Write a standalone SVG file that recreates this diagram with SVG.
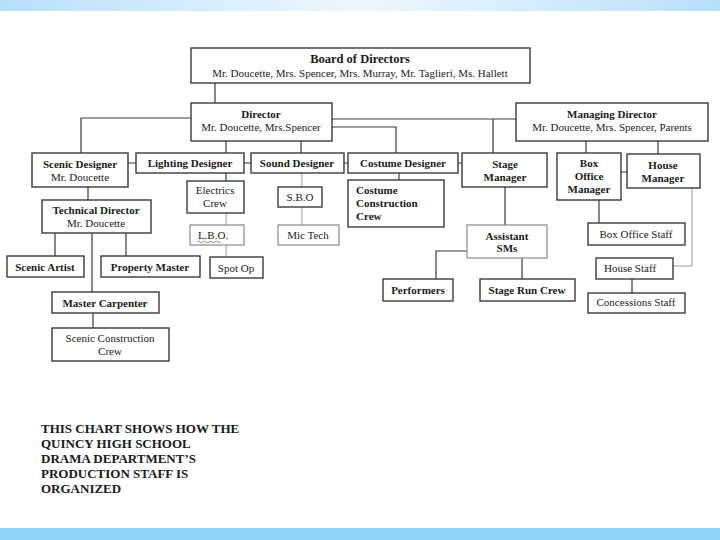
<svg xmlns="http://www.w3.org/2000/svg" width="720" height="540" viewBox="0 0 720 540">
<defs>
<linearGradient id="topg" x1="0" y1="0" x2="1" y2="0">
<stop offset="0" stop-color="#b8dffa"/>
<stop offset="0.5" stop-color="#eef7fd"/>
<stop offset="1" stop-color="#b8dffa"/>
</linearGradient>
<style>
.b{fill:#fff;stroke:#3a3a3a;stroke-width:1.4}
.g{fill:#fff;stroke:#8a8a8a;stroke-width:1.2}
.t{font-family:"Liberation Serif",serif;font-size:11px;fill:#222;text-anchor:middle}
.tb{font-family:"Liberation Serif",serif;font-size:11px;font-weight:bold;fill:#1a1a1a;text-anchor:middle}
.l{fill:none;stroke:#3a3a3a;stroke-width:1.2}
.lg{fill:none;stroke:#999;stroke-width:1}
.cap{font-family:"Liberation Serif",serif;font-size:13px;font-weight:bold;fill:#1a1a1a}
</style>
</defs>
<rect x="0" y="0" width="720" height="540" fill="#fff"/>
<rect x="0" y="0" width="720" height="11" fill="url(#topg)"/>
<rect x="0" y="528" width="720" height="12" fill="#8fd4f8"/>

<g id="connectors">
<path class="l" d="M215 83V103"/>
<path class="l" d="M191 118H81V153"/>
<path class="l" d="M226 141V153M301 141V153"/>
<path class="l" d="M332 119H516M493 119V153"/>
<path class="l" d="M332 127H396V153"/>
<path class="l" d="M128 163H136M244 163H251M344 163H348M458 163H462"/>
<path class="l" d="M586 141V153M658 141V154M621 172H627"/>
<path class="l" d="M505 187V225"/>
<path class="l" d="M467 251H436V279M522 258V279"/>
<path class="l" d="M599 200V223"/>
<path class="lg" d="M692 188V266H673"/>
<path class="l" d="M632 279V293"/>
<path class="l" d="M88 187V200"/>
<path class="l" d="M55 233V256M126 233V256M92 233V292M93 313V328"/>
<path class="l" d="M226 173V181"/>
<path class="lg" d="M226 213V225M226 245V257"/>
<path class="lg" d="M302 173V187M302 207V225"/>
<path class="l" d="M399 173V180"/>
</g>

<g id="board"><rect class="b" x="191" y="48" width="339" height="35"/>
<text class="tb" x="360" y="63" style="font-size:12.5px">Board of Directors</text>
<text class="t" x="360" y="77">Mr. Doucette, Mrs. Spencer, Mrs. Murray, Mr. Taglieri, Ms. Hallett</text></g>

<g id="director"><rect class="b" x="191" y="103" width="141" height="38"/>
<text class="tb" x="261" y="118">Director</text>
<text class="t" x="261" y="131">Mr. Doucette, Mrs.Spencer</text></g>

<g id="managing"><rect class="b" x="516" y="103" width="192" height="38"/>
<text class="tb" x="612" y="118">Managing Director</text>
<text class="t" x="612" y="131">Mr. Doucette, Mrs. Spencer, Parents</text></g>

<g id="scenic-designer"><rect class="b" x="32" y="153" width="96" height="34"/>
<text class="tb" x="80" y="168">Scenic Designer</text>
<text class="t" x="80" y="181">Mr. Doucette</text></g>

<g id="lighting"><rect class="b" x="136" y="153" width="108" height="20"/>
<text class="tb" x="190" y="167">Lighting Designer</text></g>

<g id="sound"><rect class="b" x="251" y="153" width="93" height="20"/>
<text class="tb" x="297" y="167">Sound Designer</text></g>

<g id="costume"><rect class="b" x="348" y="153" width="110" height="20"/>
<text class="tb" x="403" y="167">Costume Designer</text></g>

<g id="stage-manager"><rect class="b" x="462" y="153" width="85" height="34"/>
<text class="tb" x="505" y="168">Stage</text>
<text class="tb" x="505" y="181">Manager</text></g>

<g id="box-office-manager"><rect class="b" x="557" y="153" width="64" height="47"/>
<text class="tb" x="589" y="167">Box</text>
<text class="tb" x="589" y="180">Office</text>
<text class="tb" x="589" y="193">Manager</text></g>

<g id="house-manager"><rect class="b" x="627" y="154" width="73" height="34"/>
<text class="tb" x="663" y="169">House</text>
<text class="tb" x="663" y="182">Manager</text></g>

<g id="technical-director"><rect class="b" x="42" y="200" width="109" height="33"/>
<text class="tb" x="96" y="214">Technical Director</text>
<text class="t" x="96" y="227">Mr. Doucette</text></g>

<g id="scenic-artist"><rect class="b" x="7" y="256" width="77" height="21"/>
<text class="tb" x="45" y="271">Scenic Artist</text></g>

<g id="property-master"><rect class="b" x="101" y="256" width="99" height="21"/>
<text class="tb" x="150" y="271">Property Master</text></g>

<g id="master-carpenter"><rect class="b" x="52" y="292" width="107" height="21"/>
<text class="tb" x="105" y="307">Master Carpenter</text></g>

<g id="scenic-construction"><rect class="b" x="52" y="328" width="117" height="33"/>
<text class="t" x="110" y="342">Scenic Construction</text>
<text class="t" x="110" y="355">Crew</text></g>

<g id="electrics"><rect class="b" x="187" y="181" width="57" height="32"/>
<text class="t" x="215" y="194">Electrics</text>
<text class="t" x="215" y="207">Crew</text></g>

<g id="lbo"><rect class="g" x="190" y="225" width="54" height="20"/>
<text class="t" x="213" y="239">L.B.O.</text>
<path d="M197 242q1.5 -1.5 3 0t3 0t3 0t3 0t3 0t3 0t3 0t3 0" fill="none" stroke="#5a8a3a" stroke-width="0.8"/></g>

<g id="spot-op"><rect class="b" x="210" y="257" width="53" height="21"/>
<text class="t" x="236" y="272">Spot Op</text></g>

<g id="sbo"><rect class="b" x="278" y="187" width="44" height="20"/>
<text class="t" x="300" y="201">S.B.O</text></g>

<g id="mic-tech"><rect class="g" x="278" y="225" width="61" height="20"/>
<text class="t" x="308" y="239">Mic Tech</text></g>

<g id="costume-crew"><rect class="b" x="348" y="180" width="96" height="47"/>
<text class="tb" x="356" y="194" style="text-anchor:start">Costume</text>
<text class="tb" x="356" y="207" style="text-anchor:start">Construction</text>
<text class="tb" x="356" y="220" style="text-anchor:start">Crew</text></g>

<g id="assistant-sms"><rect class="g" x="467" y="225" width="80" height="33"/>
<text class="tb" x="507" y="240">Assistant</text>
<text class="tb" x="507" y="252">SMs</text></g>

<g id="performers"><rect class="b" x="383" y="279" width="70" height="22"/>
<text class="tb" x="418" y="294">Performers</text></g>

<g id="stage-run-crew"><rect class="b" x="480" y="279" width="95" height="22"/>
<text class="tb" x="527" y="294">Stage Run Crew</text></g>

<g id="box-office-staff"><rect class="b" x="588" y="223" width="97" height="22"/>
<text class="t" x="636" y="238">Box Office Staff</text></g>

<g id="house-staff"><rect class="b" x="596" y="258" width="77" height="21"/>
<text class="t" x="604" y="272" style="text-anchor:start">House Staff</text></g>

<g id="concessions-staff"><rect class="b" x="588" y="293" width="97" height="20"/>
<text class="t" x="636" y="306">Concessions  Staff</text></g>

<g id="caption">
<text class="cap" x="41" y="433">THIS CHART SHOWS HOW THE</text>
<text class="cap" x="41" y="448">QUINCY HIGH SCHOOL</text>
<text class="cap" x="41" y="463">DRAMA DEPARTMENT’S</text>
<text class="cap" x="41" y="478">PRODUCTION STAFF IS</text>
<text class="cap" x="41" y="493">ORGANIZED</text>
</g>
</svg>
